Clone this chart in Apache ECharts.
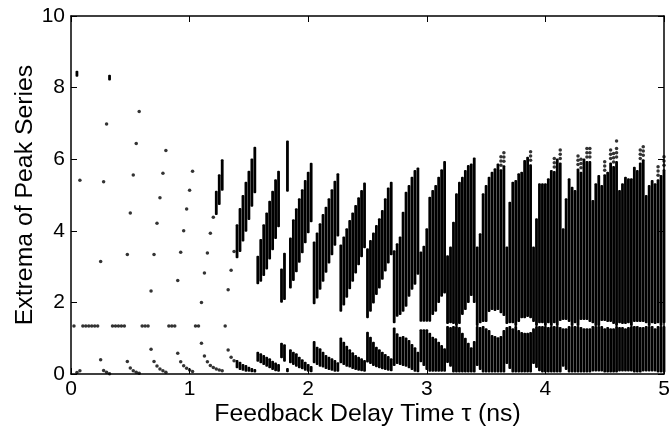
<!DOCTYPE html>
<html><head><meta charset="utf-8">
<style>html,body{margin:0;padding:0;background:#fff}#c{width:670px;height:428px}</style>
<script src="https://cdn.jsdelivr.net/npm/echarts@6/dist/echarts.min.js"></script>
</head><body><div id="c"></div>
<script>
const xTicks = ['0','1','2','3','4','5'];
const yTicks = ['0','2','4','6','8','10'];

const dotTau = [0.05,0.075,0.25,0.275,0.3,0.325,0.475,0.5,0.525,0.55,0.575,0.675,0.7,0.725,0.75,0.775,0.8,0.9,0.925,0.95,0.975,1,1.025,1.1,1.125,1.15,1.175,1.2,1.225,1.25,1.275,1.325,1.35,1.375,
 0.3,0.075,0.575,0.55,0.8,0.275,0.525,0.775,1.025,1,0.75,0.975,0.5,0.725,0.95,1.175,1.2,0.25,0.475,0.7,0.925,1.15,1.375,1.35,1.125,0.9,0.675,1.1,1.325,
 0.025,0.1,0.125,0.15,0.175,0.2,0.225,0.35,0.375,0.4,0.425,0.45,0.6,0.625,0.65,0.825,0.85,0.875,1.05,1.075,1.3];
const dotY = [0.04,0.09,0.4,0.1,0.05,0.01,0.35,0.17,0.09,0.05,0.02,0.69,0.35,0.22,0.14,0.09,0.05,0.58,0.34,0.23,0.16,0.11,0.07,0.86,0.5,0.34,0.24,0.18,0.14,0.11,0.09,0.67,0.47,0.37,
 6.98,5.41,7.33,6.44,6.24,5.37,5.56,5.61,5.66,5.13,4.92,4.61,4.5,4.21,4,3.93,4.38,3.14,3.34,3.34,3.4,3.38,3.42,2.9,2.82,2.61,2.32,2,2.35,
 1.34,1.34,1.34,1.34,1.34,1.34,1.34,1.34,1.34,1.34,1.34,1.34,1.34,1.34,1.34,1.34,1.34,1.34,1.34,1.34,1.34];

const fringeTau = [3.625,3.625,3.625,3.65,3.65,3.65,3.875,3.875,3.875,4.075,4.075,4.075,4.125,4.125,4.125,4.275,4.275,4.275,4.3,4.3,4.3,4.35,4.35,4.35,4.375,4.375,4.375,4.5,4.5,4.5,4.55,4.55,4.55,4.575,4.575,4.575,4.6,4.6,4.6,4.6,4.8,4.8,4.8,4.825,4.825,4.825,4.95,4.95,4.95,5,5,5];
const fringeY = [6.07,5.95,5.83,6.18,6.06,5.94,6.21,6.09,5.97,6.02,5.9,5.78,6.26,6.14,6.02,6.09,5.97,5.85,6,5.88,5.76,6.3,6.18,6.06,6.3,6.18,6.06,5.93,5.81,5.69,6.26,6.14,6.02,6.16,6.04,5.92,6.51,6.3,6.18,6.06,6.26,6.14,6.02,6.35,6.23,6.11,5.79,5.67,5.55,6.07,5.95,5.83];

const earlyTau = [0.05,0.325,1.225,1.25,1.275];
const earlyLow = [8.3,8.2,4.44,4.72,5.12];
const earlyHigh = [8.47,8.36,5.12,5.58,6];

const tau = [1.4,1.425,1.45,1.475,1.5,1.525,1.55,
 1.575,1.6,1.625,1.65,1.675,1.7,1.725,1.75,
 1.775,1.8,1.825,
 1.85,1.875,1.9,1.925,1.95,1.975,2,2.025,
 2.05,2.075,2.1,2.125,2.15,2.175,2.2,2.225,2.25,
 2.275,2.3,2.325,2.35,2.375,2.4,2.425,2.45,2.475,
 2.5,2.525,2.55,2.575,2.6,2.625,2.65,2.675,2.7,
 2.725,2.75,2.775,2.8,2.825,2.85,2.875,2.9,2.925,
 2.95,2.975,3,3.025,3.05,3.075,3.1,3.125,3.15,
 3.175,3.2,3.225,3.25,3.275,3.3,3.325,3.35,3.375,3.4,
 3.425,3.45,3.475,3.5,3.525,3.55,3.575,3.6,3.625,3.65,
 3.675,3.7,3.725,3.75,3.775,3.8,3.825,3.85,3.875,3.9,
 3.925,3.95,3.975,4,4.025,4.05,4.075,4.1,4.125,4.15,
 4.175,4.2,4.225,4.25,4.275,4.3,4.325,4.35,4.375,4.4,
 4.425,4.45,4.475,4.5,4.525,4.55,4.575,4.6,4.625,4.65,
 4.675,4.7,4.725,4.75,4.775,4.8,4.825,4.85,4.875,4.9,
 4.925,4.95,4.975,5];

const upperHigh = [4.18,4.64,5,5.37,5.68,6.02,6.35,
 3.3,3.77,4.18,4.51,4.84,5.12,5.44,5.68,
 2.95,3.39,6.52,
 3.81,4.32,4.63,4.91,5.16,5.42,5.65,5.9,
 3.7,3.95,4.21,4.47,4.67,4.91,5.16,5.4,5.61,
 3.62,3.84,4.07,4.3,4.51,4.72,4.94,5.14,5.35,
 3.51,3.74,3.95,4.16,4.35,4.58,4.91,5.21,5.37,
 3.46,3.65,3.84,4.53,5.09,5.28,5.51,5.7,5.77,
 3.42,3.58,4.07,4.95,5.14,5.28,5.51,5.72,5.95,
 3.32,3.56,4.25,5.05,5.37,5.51,5.7,5.84,5.88,6.05,
 3.56,3.93,5.05,5.28,5.51,5.65,5.75,5.88,5.72,5.83,
 3.56,4.81,5.37,5.42,5.61,5.65,5.98,6.07,5.86,3.56,
 4.35,5.33,5.33,5.33,5.47,5.7,5.67,6.02,5.91,4.07,
 4.91,5.47,5.23,5.14,5.74,5.65,6.02,5.95,5.95,4.86,
 5.33,5.56,5.28,5.58,5.65,5.91,5.81,5.95,5.14,5.33,
 5.51,5.47,5.47,5.79,5.7,5.91,6,5,5.28,5.42,
 5.33,5.44,5.56,5.72];

const upperLow = [3.23,3.41,3.7,3.97,4.3,4.67,5.05,
 2.51,2.58,2.74,2.92,3.2,3.46,3.77,4.1,
 1.99,2.07,5.09,
 2.39,2.6,2.84,3.11,3.37,3.65,3.93,4.24,
 1.95,2.11,2.35,2.58,2.83,3.09,3.32,3.58,3.84,
 1.74,1.91,2.13,2.37,2.58,2.81,3.04,3.26,3.51,
 1.56,1.74,1.97,2.21,2.39,2.63,2.86,3.09,3.32,
 1.42,1.6,1.65,1.74,1.88,2.16,2.35,2.49,2.77,
 1.46,1.46,1.46,1.46,1.65,1.74,1.98,2.16,2.25,
 1.4,1.42,1.4,1.34,1.4,1.65,1.79,1.98,2.18,1.98,
 1.34,1.42,1.45,1.45,1.73,1.79,1.76,1.79,1.7,1.62,
 1.4,1.42,1.42,1.34,1.45,1.56,1.56,1.59,1.56,1.45,
 1.34,1.42,1.42,1.34,1.42,1.34,1.42,1.34,1.48,1.51,
 1.51,1.45,1.34,1.42,1.34,1.51,1.51,1.51,1.45,1.42,
 1.34,1.34,1.48,1.48,1.45,1.45,1.4,1.34,1.42,1.4,
 1.4,1.42,1.34,1.45,1.45,1.45,1.45,1.42,1.34,1.42,
 1.4,1.42,1.34,1.42];

const lowerHigh = [0.39,0.34,0.28,0.25,0.2,0.17,0.14,
 0.62,0.58,0.53,0.48,0.44,0.37,0.32,0.28,
 0.87,0.83,0.17,
 0.69,0.62,0.58,0.48,0.41,0.34,0.28,0.22,
 0.92,0.76,0.72,0.62,0.53,0.48,0.44,0.39,0.33,
 1.02,0.9,0.79,0.69,0.61,0.53,0.48,0.44,0.39,
 1.18,1.04,0.9,0.76,0.69,0.62,0.56,0.5,0.44,
 1.3,1.14,1.04,1.06,1.02,0.95,0.84,0.75,0.62,
 1.25,1.25,1.25,1.15,1.04,1,0.9,0.81,0.72,
 1.34,1.31,1.34,1.34,1.31,1.15,1.01,0.87,0.75,0.92,
 1.34,1.31,1.34,1.28,1.23,1.09,1.06,1.03,1.06,1.23,
 1.31,1.34,1.28,1.34,1.23,1.17,1.15,1.15,1.17,1.28,
 1.34,1.34,1.34,1.34,1.31,1.34,1.34,1.34,1.31,1.28,
 1.28,1.34,1.34,1.34,1.34,1.31,1.28,1.28,1.28,1.34,
 1.34,1.34,1.34,1.28,1.31,1.28,1.28,1.34,1.31,1.31,
 1.28,1.31,1.34,1.34,1.34,1.31,1.31,1.34,1.34,1.34,
 1.28,1.34,1.34,1.34];

const lowerLow = [0.16,0.11,0.09,0.06,0.06,0.05,0.04,
 0.34,0.3,0.25,0.2,0.16,0.11,0.08,0.06,
 0.44,0.34,0.05,
 0.3,0.25,0.2,0.16,0.13,0.09,0.06,0.05,
 0.3,0.25,0.2,0.18,0.14,0.11,0.09,0.06,0.06,
 0.3,0.25,0.2,0.18,0.14,0.11,0.09,0.08,0.06,
 0.32,0.28,0.22,0.19,0.16,0.13,0.11,0.09,0.08,
 0.22,0.28,0.25,0.22,0.2,0.16,0.11,0.06,0.05,
 0.33,0.22,0.11,0.06,0.06,0.06,0.06,0.06,0.06,
 0.31,0.2,0.04,0.04,0.04,0.04,0.04,0.04,0.04,0.04,
 0.22,0.11,0.04,0.04,0.04,0.04,0.04,0.04,0.04,0.04,
 0.28,0.14,0.04,0.04,0.04,0.04,0.04,0.04,0.04,0.28,
 0.17,0.08,0.04,0.04,0.04,0.04,0.04,0.04,0.04,0.2,
 0.11,0.04,0.04,0.04,0.04,0.04,0.04,0.04,0.04,0.07,
 0.07,0.07,0.07,0.04,0.04,0.04,0.04,0.04,0.07,0.07,
 0.07,0.07,0.07,0.04,0.04,0.04,0.07,0.07,0.07,0.07,
 0.07,0.04,0.04,0.04];

const band = (xs, lo, hi) => xs.map((t, i) => [t, lo[i], hi[i]]);
const columnWidth = 2.8;
function column(params, api) {
  const top = api.coord([api.value(0), api.value(2)]);
  const bottom = api.coord([api.value(0), api.value(1)]);
  return {
    type: 'rect',
    shape: { x: top[0] - columnWidth / 2, y: top[1], width: columnWidth, height: Math.max(bottom[1] - top[1], 1), r: 1 },
    style: { fill: '#000' }
  };
}
const columnSeries = (data) => ({ type: 'custom', renderItem: column, data, encode: { x: 0, y: [1, 2] }, animation: false, silent: true, clip: false });
const dotSeries = (xs, ys) => ({ type: 'scatter', data: xs.map((t, i) => [t, ys[i]]), symbol: 'circle', symbolSize: 3.5, itemStyle: { color: '#000' }, animation: false, silent: true, clip: false });

const font = '"Liberation Sans", Arial, sans-serif';
const line = { show: true, onZero: false, lineStyle: { color: '#000', width: 1.5 } };
const tick = { show: true, inside: true, length: 6, lineStyle: { color: '#000', width: 1 } };
const chart = echarts.init(document.getElementById('c'), null, { renderer: 'canvas' });
chart.setOption({
  animation: false,
  backgroundColor: '#fff',
  grid: { left: 71, right: 6, top: 16, bottom: 54, containLabel: false, outerBoundsMode: 'none' },
  xAxis: [
    { type: 'value', min: 0, max: 5, interval: 1, position: 'bottom', axisLine: line, axisTick: tick, splitLine: { show: false },
      axisLabel: { color: '#000', fontFamily: font, fontSize: 21, margin: 5, formatter: v => xTicks[v] },
      name: 'Feedback Delay Time τ (ns)', nameLocation: 'middle', nameGap: 28, nameMoveOverlap: false,
      nameTextStyle: { color: '#000', fontFamily: font, fontSize: 24.8 } },
    { type: 'value', min: 0, max: 5, interval: 1, position: 'top', axisLine: line, axisTick: tick, axisLabel: { show: false }, splitLine: { show: false } }
  ],
  yAxis: [
    { type: 'value', min: 0, max: 10, interval: 2, position: 'left', axisLine: line, axisTick: tick, splitLine: { show: false },
      axisLabel: { color: '#000', fontFamily: font, fontSize: 21, margin: 6, formatter: v => yTicks[v / 2] },
      name: 'Extrema of Peak Series', nameLocation: 'middle', nameGap: 33, nameMoveOverlap: false,
      nameTextStyle: { color: '#000', fontFamily: font, fontSize: 24.8 } },
    { type: 'value', min: 0, max: 10, interval: 2, position: 'right', axisLine: line, axisTick: tick, axisLabel: { show: false }, splitLine: { show: false } }
  ],
  series: [
    dotSeries(dotTau, dotY),
    dotSeries(fringeTau, fringeY),
    columnSeries(band(earlyTau, earlyLow, earlyHigh)),
    columnSeries(band(tau, upperLow, upperHigh)),
    columnSeries(band(tau, lowerLow, lowerHigh))
  ]
});
</script></body></html>
